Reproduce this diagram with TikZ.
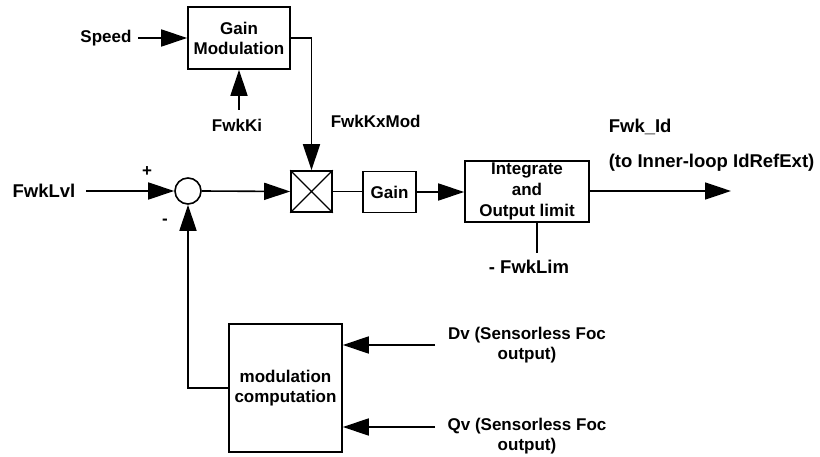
\documentclass[tikz,border=0pt]{standalone}
\usepackage{fontspec}
\setmainfont{Liberation Sans}
\usetikzlibrary{arrows.meta}
\begin{document}
\begin{tikzpicture}[x=1pt,y=-1pt,
  line width=1.6pt,
  every node/.style={font=\fontsize{17}{20}\selectfont\bfseries},
  big/.style={font=\fontsize{18.5}{21}\selectfont\bfseries},
  blk/.style={draw, rectangle, align=center, inner sep=0pt},
  lbl/.style={inner sep=0pt, align=center},
  arr/.style={-{Triangle[length=26pt,width=17pt]}}]
\useasboundingbox (0,0) rectangle (820,457);
% blocks
\node[blk, minimum width=102pt, minimum height=62pt] (gm) at (239,38) {Gain\\Modulation};
\node[blk, minimum width=41pt, minimum height=41pt] (mult) at (311.5,191.5) {};
\draw[line width=1.2pt] (mult.north west) -- (mult.south east) (mult.north east) -- (mult.south west);
\node[draw, circle, minimum size=26pt, inner sep=0pt] (sum) at (188,191) {};
\node[blk, minimum width=53pt, minimum height=41pt] (gain) at (389.5,192) {Gain};
\node[blk, minimum width=124pt, minimum height=61pt, font=\fontsize{17}{21}\selectfont\bfseries] (integ) at (527,191.5) {Integrate\\and\\Output limit};
\node[blk, minimum width=113pt, minimum height=128pt] (mod) at (285.5,388) {modulation\\computation};
% labels
\node[lbl] (speed) at (106,38) {Speed};
\node[lbl] (ki) at (237,125) {FwkKi};
\node[lbl, anchor=west] (kx) at (330,121) {FwkKxMod};
\node[lbl, big] (lvl) at (44,191) {FwkLvl};
\node[lbl] (plus) at (147,172) {+};
\node[lbl] (minus) at (165,222) {-};
\node[lbl, big, anchor=west] (fid) at (608,127) {Fwk\_Id};
\node[lbl, big, anchor=west] (fto) at (608,163) {(to Inner-loop IdRefExt)};
\node[lbl, big] (lim) at (529,267) {- FwkLim};
\node[lbl] (dv) at (527,345) {Dv (Sensorless Foc\\output)};
\node[lbl] (qv) at (527,436.5) {Qv (Sensorless Foc\\output)};
% free ends
\coordinate (speedS) at (138,38);
\coordinate (kiS) at (239,110);
\coordinate (lvlS) at (86,191);
\coordinate (outE) at (731,191);
\coordinate (limTop) at (537,222);
\coordinate (limE) at (537,253);
\coordinate (dvS) at (435,345);
\coordinate (qvS) at (435,427);
% connectors
\draw[arr] (speedS) -- (gm.west |- speedS);
\draw[arr] (kiS) -- (kiS |- gm.south);
\draw[arr] (gm.east) -| (mult.north);
\draw[arr] (lvlS) -- (sum.west);
\draw[arr] (sum.east) -- (mult.west);
\draw (mult.east) -- (gain.west |- mult.east);
\draw[arr] (gain.east) -- (integ.west |- gain.east);
\draw[arr] (integ.east |- outE) -- (outE);
\draw (limTop) -- (limE);
\draw[arr] (mod.west) -| (sum.south);
\draw[arr] (dvS) -- (dvS -| mod.east);
\draw[arr] (qvS) -- (qvS -| mod.east);
\end{tikzpicture}
\end{document}
